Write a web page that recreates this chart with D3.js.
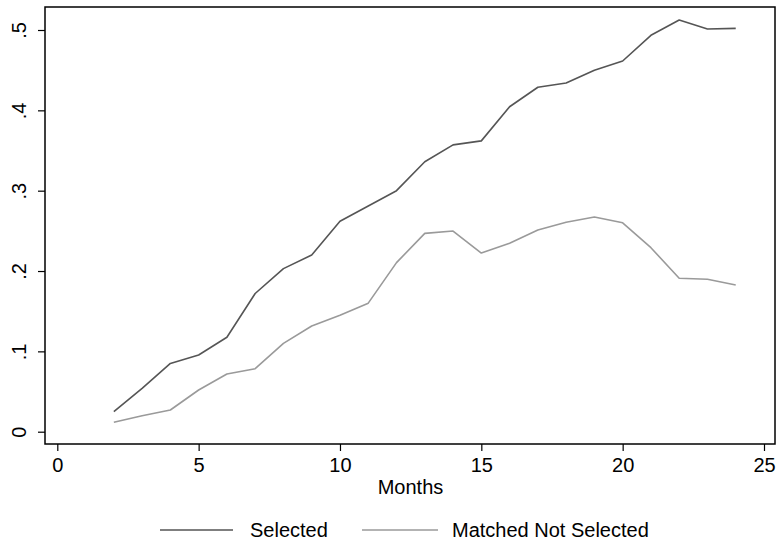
<!DOCTYPE html>
<html><head><meta charset="utf-8">
<script src="https://cdn.jsdelivr.net/npm/d3@7"></script>
<style>body{margin:0;background:#fff}svg{display:block}text{font-family:"Liberation Sans",Arial,sans-serif;fill:#000}</style>
</head><body><svg id="c" width="777" height="543"></svg>
<script>
const months = [2,3,4,5,6,7,8,9,10,11,12,13,14,15,16,17,18,19,20,21,22,23,24];
const selected = [0.025,0.054,0.085,0.0955,0.1175,0.172,0.203,0.22,0.262,0.281,0.300,0.336,0.357,0.362,0.4045,0.4287,0.434,0.450,0.4614,0.4934,0.5124,0.5012,0.502];
const matched = [0.0117,0.0199,0.027,0.0519,0.0718,0.0784,0.110,0.1316,0.145,0.160,0.2104,0.2469,0.2498,0.2224,0.2345,0.251,0.2606,0.2672,0.260,0.229,0.191,0.1897,0.1826];
const xTicks = [0,5,10,15,20,25];
const yTicks = [0,0.1,0.2,0.3,0.4,0.5];
const yTickLabels = ["0",".1",".2",".3",".4",".5"];
const seriesNames = ["Selected","Matched Not Selected"];
const colors = ["#555555","#9a9a9a"];

const svg = d3.select("#c");
const frame = {l:45, r:775, t:7, b:444};
const x = d3.scaleLinear().domain([0,25]).range([57.3,764]);
const y = d3.scaleLinear().domain([0,0.5]).range([431.7,30]);

// lines
const line = d3.line().x((d,i)=>x(months[i])).y(d=>y(d));
[selected, matched].forEach((s,k)=>{
  svg.append("path").datum(s).attr("d",line).attr("fill","none")
    .attr("stroke",colors[k]).attr("stroke-width",1.6).attr("stroke-linejoin","round");
});

// frame
svg.append("rect").attr("x",frame.l).attr("y",frame.t).attr("width",frame.r-frame.l).attr("height",frame.b-frame.t)
  .attr("fill","none").attr("stroke","#000").attr("stroke-width",1.5);

// x axis
const xa = svg.append("g").attr("transform",`translate(0,${frame.b})`)
  .call(d3.axisBottom(x).tickValues(xTicks).tickSize(7).tickPadding(6.5).tickFormat(d3.format("d")));
xa.select(".domain").remove();
xa.selectAll("line").attr("stroke","#000").attr("stroke-width",1.2);
xa.selectAll("text").attr("font-size",20).attr("fill","#000").attr("dy","0.71em");

// y axis
const ya = svg.append("g").attr("transform",`translate(${frame.l},0)`)
  .call(d3.axisLeft(y).tickValues(yTicks).tickSize(7).tickFormat((d,i)=>yTickLabels[i]));
ya.select(".domain").remove();
ya.selectAll("line").attr("stroke","#000").attr("stroke-width",1.2);
ya.selectAll("text").attr("font-size",20).attr("fill","#000")
  .attr("text-anchor","middle").attr("x",0).attr("dy",0)
  .attr("transform","translate(-19,0) rotate(-90)");

// x title
svg.append("text").attr("x",410.5).attr("y",494).attr("text-anchor","middle").attr("font-size",20).text("Months");

// legend
const leg = [{x1:160,x2:233,tx:250},{x1:362,x2:438,tx:452}];
leg.forEach((L,k)=>{
  svg.append("line").attr("x1",L.x1).attr("x2",L.x2).attr("y1",530).attr("y2",530)
    .attr("stroke",colors[k]).attr("stroke-width",1.6);
  svg.append("text").attr("x",L.tx).attr("y",537).attr("font-size",20).text(seriesNames[k]);
});
</script></body></html>
